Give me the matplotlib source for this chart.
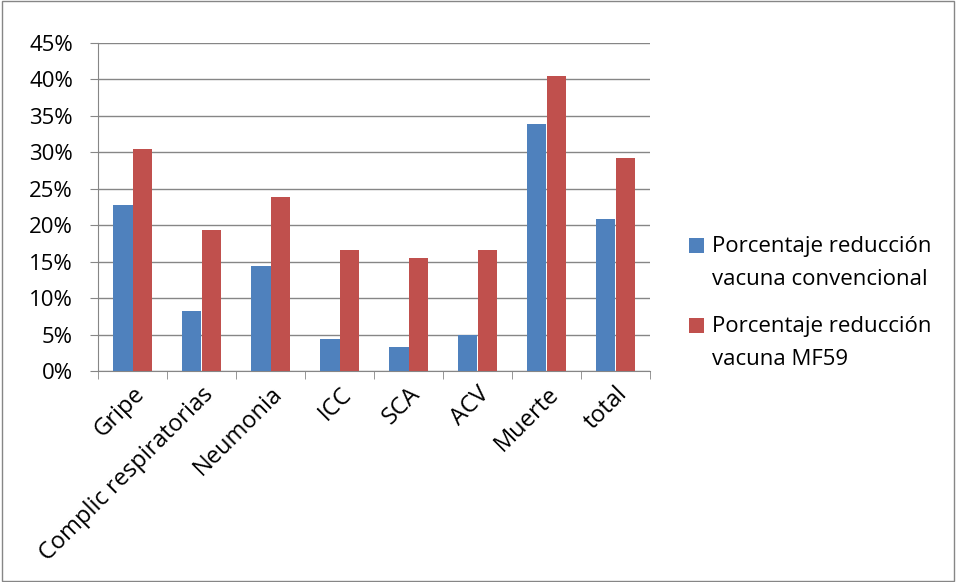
import numpy as np
import matplotlib.pyplot as plt
from matplotlib.ticker import PercentFormatter, FixedLocator
from matplotlib.legend_handler import HandlerPatch, update_from_first_child
from matplotlib.container import BarContainer
from matplotlib.patches import Rectangle

# Data
categorias = ['Gripe', 'Complic respiratorias', 'Neumonia', 'ICC', 'SCA',
              'ACV', 'Muerte', 'total']
convencional = [22.8, 8.3, 14.4, 4.4, 3.3, 5.0, 33.9, 20.9]
mf59 = [30.5, 19.4, 23.9, 16.65, 15.5, 16.65, 40.5, 29.2]
serie_nombres = ['Porcentaje reducción\nvacuna convencional',
                 'Porcentaje reducción\nvacuna MF59']

plt.rcParams['font.family'] = ['Open Sans', 'DejaVu Sans']
fs = 16
line_sp = 1.7

fig = plt.figure(figsize=(9.56, 5.82), dpi=100)
ax = fig.add_axes([98 / 956, 1 - 371 / 582, (650 - 98) / 956, (371 - 43) / 582])

x = np.arange(len(categorias))
w = 1 / 3.5
ax.bar(x - w / 2, convencional, w, color='#4f81bd', label=serie_nombres[0],
       zorder=3)
ax.bar(x + w / 2, mf59, w, color='#c0504d', label=serie_nombres[1], zorder=3)

ax.set_xlim(-0.5, len(categorias) - 0.5)
ax.set_ylim(0, 45)
ax.set_yticks(np.arange(0, 46, 5))
ax.yaxis.set_major_formatter(PercentFormatter(decimals=0))
ax.grid(axis='y', color='#868686', linewidth=1, zorder=0)

# tick marks between categories, labels centered under categories
ax.set_xticks(x)
ax.set_xticklabels(categorias, rotation=45, ha='right', rotation_mode='anchor')
ax.tick_params(axis='x', length=0, pad=8, labelsize=17)
ax.xaxis.set_minor_locator(FixedLocator(np.arange(-0.5, len(categorias), 1)))
ax.tick_params(axis='x', which='minor', length=6, color='#868686')
ax.tick_params(axis='y', length=6, color='#868686', labelsize=fs, pad=12)

for s in ['top', 'right']:
    ax.spines[s].set_visible(False)
for s in ['left', 'bottom']:
    ax.spines[s].set_color('#868686')


# legend squares sit next to the first line of each label
def top_square(legend, orig_handle, xdescent, ydescent, width, height, fontsize):
    dy = 0.5 * line_sp * fontsize * 0.95
    return Rectangle((-xdescent, -ydescent + dy), width, height)


leg = ax.legend(loc='center left', bbox_to_anchor=(669 / 956, 1 - 303 / 582),
                bbox_transform=fig.transFigure, frameon=False,
                fontsize=fs, handlelength=0.68, handleheight=0.68,
                handletextpad=0.35, labelspacing=1.2,
                handler_map={BarContainer: HandlerPatch(
                    patch_func=top_square,
                    update_func=update_from_first_child)})
for t in leg.get_texts():
    t.set_linespacing(line_sp)

# outer chart border
fig.patches.append(plt.Rectangle((0.002, 0.002), 0.996, 0.996,
                                 transform=fig.transFigure, fill=False,
                                 edgecolor='#868686', linewidth=1))

fig.savefig('out.png', dpi=100)
